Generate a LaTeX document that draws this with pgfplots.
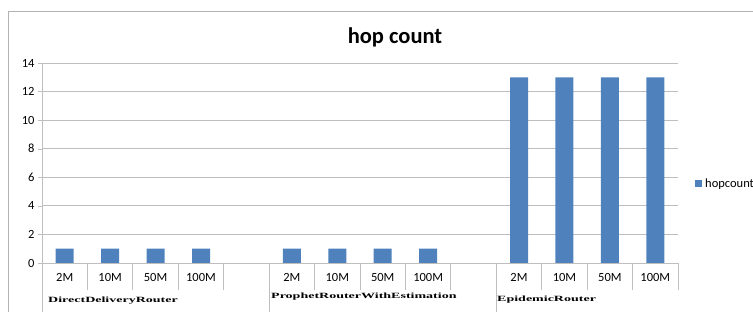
\documentclass[border=0pt]{standalone}
\usepackage{pgfplots}
\pgfplotsset{compat=1.18}
\usepackage{fontspec}
\setmainfont{Carlito}
\newfontfamily\grp{Liberation Serif}
\definecolor{barblue}{RGB}{79,129,189}
\definecolor{gridgray}{RGB}{190,190,190}
\begin{document}
\begin{tikzpicture}[x=1pt,y=1pt]
\path[use as bounding box] (0,0) rectangle (753,312);
\draw[gray!60, line width=1pt] (8,0) -- (8,300) -- (753,300);
\begin{axis}[
  at={(42pt,49pt)}, anchor=south west,
  scale only axis, width=636pt, height=200pt,
  xmin=-0.5, xmax=13.5, ymin=0, ymax=14,
  ybar, bar width=18pt,
  xtick={0,...,13},
  xticklabels={2M,10M,50M,100M,,2M,10M,50M,100M,,2M,10M,50M,100M},
  x tick label style={font=\fontsize{12.5}{14}\selectfont, yshift=-3pt},
  major x tick style={draw=none},
  ytick={0,2,...,14},
  y tick label style={font=\fontsize{12.5}{14}\selectfont},
  /pgf/number format/assume math mode=true,
  ymajorgrids, grid style={gridgray, line width=0.8pt},
  axis line style={gridgray, line width=0.8pt},
  axis x line*=bottom, axis y line*=left,
  major y tick style={gridgray},
  tick align=outside, major tick length=4pt,
  clip=false,
]
\addplot[fill=barblue, draw=none] coordinates {
 (0,1) (1,1) (2,1) (3,1)
 (5,1) (6,1) (7,1) (8,1)
 (10,13) (11,13) (12,13) (13,13)};
\foreach \k in {0.5,1.5,2.5,3.5,5.5,6.5,7.5,8.5,10.5,11.5,12.5,13.5}{
  \edef\tmp{\noexpand\draw[gridgray, line width=0.8pt] (axis cs:\k,0) -- ([yshift=-27pt]axis cs:\k,0);}\tmp
}
\foreach \k in {-0.5,4.5,9.5}{
  \edef\tmp{\noexpand\draw[gridgray, line width=0.8pt] (axis cs:\k,0) -- ([yshift=-49pt]axis cs:\k,0);}\tmp
}
\end{axis}
\node[font=\fontsize{22.5}{26}\selectfont\bfseries] at (395,275) {hop count};
\fill[barblue] (695,125) rectangle (702,132);
\node[anchor=west, font=\fontsize{12.5}{14}\selectfont, inner sep=0pt] at (705,128) {hopcount};
\node[anchor=base west, inner sep=0pt, font=\grp\bfseries\fontsize{8}{9}\selectfont] at (48,9) {\scalebox{1.75}[1]{DirectDeliveryRouter}};
\node[anchor=base west, inner sep=0pt, font=\grp\bfseries\fontsize{8}{9}\selectfont] at (271,13) {\scalebox{1.75}[1]{ProphetRouterWithEstimation}};
\node[anchor=base west, inner sep=0pt, font=\grp\bfseries\fontsize{8}{9}\selectfont] at (497,10) {\scalebox{1.75}[1]{EpidemicRouter}};
\end{tikzpicture}
\end{document}
